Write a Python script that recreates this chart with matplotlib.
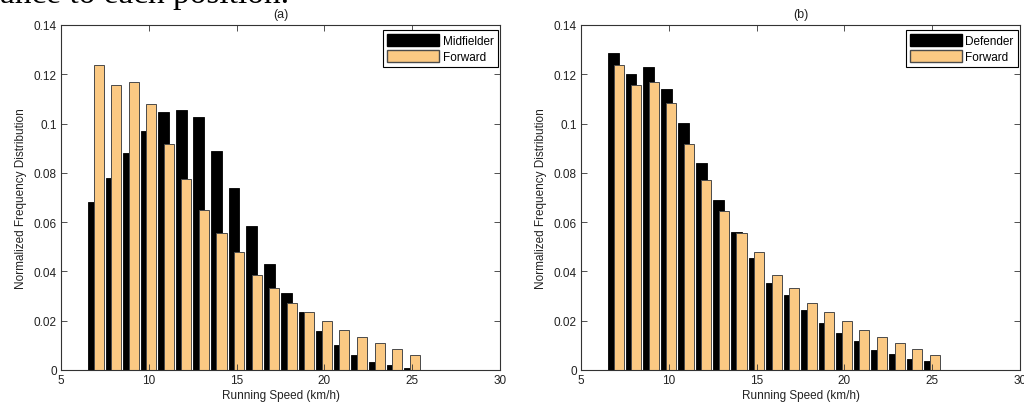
import matplotlib.pyplot as plt
import numpy as np
from matplotlib.patches import Patch
from matplotlib.ticker import FuncFormatter

plt.rcParams['font.family'] = ['Liberation Sans', 'DejaVu Sans']

speed = list(range(7, 26))

midfielder = [0.068, 0.078, 0.088, 0.097, 0.1045, 0.1057, 0.1025, 0.089, 0.074, 0.0585,
              0.0431, 0.0311, 0.0234, 0.016, 0.0103, 0.0061, 0.0032, 0.002, 0.0008]
forward_a = [0.1236, 0.1155, 0.1168, 0.1081, 0.0917, 0.0774, 0.0649, 0.0555, 0.0477, 0.0387,
             0.0332, 0.0273, 0.0237, 0.020, 0.0163, 0.0135, 0.0111, 0.0086, 0.0061]

defender = [0.1286, 0.1201, 0.123, 0.1141, 0.1003, 0.084, 0.0688, 0.0562, 0.0455, 0.0353,
            0.0305, 0.0243, 0.0191, 0.015, 0.0118, 0.0081, 0.0065, 0.0045, 0.0036]
forward_b = [0.1239, 0.1155, 0.1168, 0.1083, 0.0916, 0.0773, 0.0647, 0.0554, 0.0477, 0.0387,
             0.0332, 0.0272, 0.0234, 0.0197, 0.0161, 0.0134, 0.0109, 0.0085, 0.0061]

panels = [('(a)', 'Midfielder', midfielder, forward_a),
          ('(b)', 'Defender', defender, forward_b)]

orange = '#FBC983'
txt = '#222222'

W, H = 1024, 406
fig = plt.figure(figsize=(W / 100, H / 100), dpi=100)

# tail of the paper's sentence, cut off by the crop
fig.text(0.0, 1 - 3 / H, 'ance to each position.', family='Liberation Serif',
         fontsize=24, color='black', va='baseline', ha='left')

lefts = [61, 581]
x = np.array(speed)
for left, (title, name, black_vals, orange_vals) in zip(lefts, panels):
    ax = fig.add_axes([left / W, (H - 371) / H, 439 / W, 345 / H])
    ax.bar(x - 0.15, black_vals, width=0.62, color='black', edgecolor='black', linewidth=0.6)
    ax.bar(x + 0.14, orange_vals, width=0.57, color=orange, edgecolor='#4a4a4a', linewidth=0.7)

    ax.set_xlim(5, 30)
    ax.set_ylim(0, 0.14)
    ax.set_xticks(range(5, 31, 5))
    ax.set_yticks(np.arange(0, 0.141, 0.02))
    ax.yaxis.set_major_formatter(FuncFormatter(lambda v, p: '%g' % round(v, 2)))
    ax.tick_params(direction='in', top=True, right=True, length=4, width=0.6,
                   labelsize=8.5, colors='#333333', labelcolor=txt, pad=3)
    for s in ax.spines.values():
        s.set_color('#333333')
        s.set_linewidth(0.8)

    ax.text(0.5, 1 + 11 / 345, title, transform=ax.transAxes, ha='center', va='center',
            fontsize=9, color=txt)
    ax.set_xlabel('Running Speed (km/h)', fontsize=8.5, color=txt, labelpad=2)
    ax.set_ylabel('Normalized Frequency Distribution', fontsize=8.5, color=txt, labelpad=5)

    handles = [Patch(facecolor='black', edgecolor='black', label=name),
               Patch(facecolor=orange, edgecolor='#4a4a4a', label='Forward')]
    leg = ax.legend(handles=handles, loc='upper right', bbox_to_anchor=(0.995, 0.985),
                    fontsize=8.5, frameon=True, fancybox=False, handlelength=4.4,
                    handleheight=1.2, handletextpad=0.3, borderpad=0.35,
                    labelspacing=0.25, borderaxespad=0)
    leg.get_frame().set_edgecolor('black')
    leg.get_frame().set_linewidth(0.8)
    leg.get_frame().set_alpha(1)

fig.savefig('out.png', dpi=100)
